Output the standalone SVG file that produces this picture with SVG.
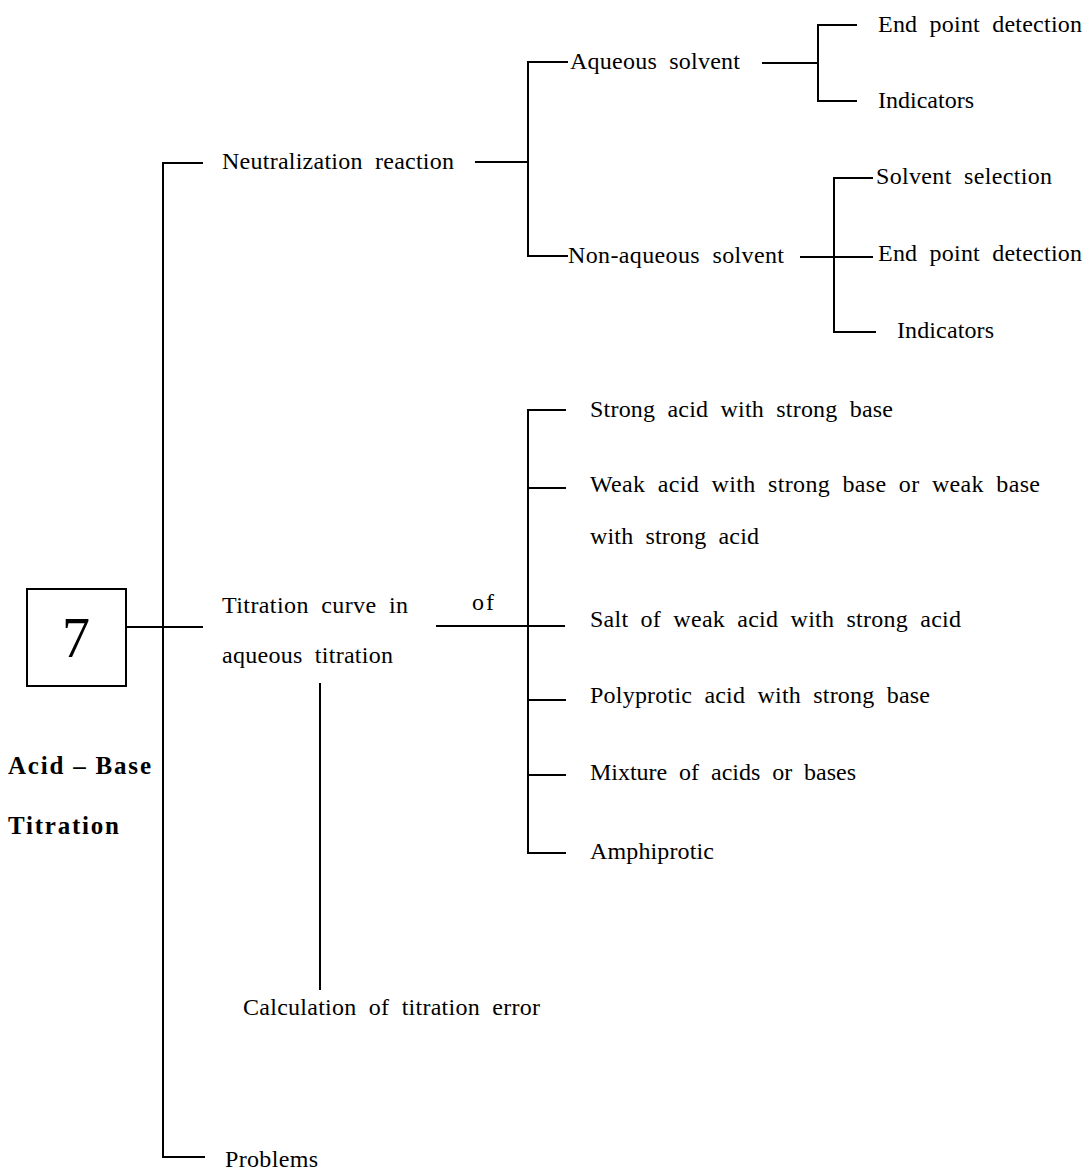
<svg xmlns="http://www.w3.org/2000/svg" width="1089" height="1174" viewBox="0 0 1089 1174">
<style>
text{font-family:"Liberation Serif","Times New Roman",serif;font-size:24px;fill:#000;word-spacing:6px}
.b{font-weight:bold;font-size:25px;word-spacing:0}
.big{font-size:56px}
.c line,.c path,.box{stroke:#000;stroke-width:2;fill:none}
</style>
<rect width="1089" height="1174" style="fill:#fff;stroke:none"/>
<g id="connectors" class="c">
<path d="M203,163 H163 V1157 H205"/>
<line x1="126" y1="627" x2="203" y2="627"/>
<line x1="475" y1="162" x2="528" y2="162"/>
<path d="M568,62 H528 V256 H568"/>
<line x1="762" y1="63" x2="818" y2="63"/>
<path d="M857,25 H818 V101 H857"/>
<line x1="800" y1="257" x2="873" y2="257"/>
<path d="M873,178 H834 V332 H876"/>
<line x1="436" y1="626" x2="565" y2="626"/>
<path d="M566,410 H528 V853 H566"/>
<line x1="528" y1="488" x2="566" y2="488"/>
<line x1="528" y1="700" x2="566" y2="700"/>
<line x1="528" y1="775" x2="566" y2="775"/>
<line x1="320" y1="683" x2="320" y2="990"/>
</g>
<g id="root">
<rect class="box" x="27" y="589" width="99" height="97"/>
<text class="big" x="76" y="657" text-anchor="middle">7</text>
<text class="b" x="8" y="774" textLength="143">Acid – Base</text>
<text class="b" x="8" y="834" textLength="111">Titration</text>
</g>
<g id="neutralization"><text x="222" y="169" textLength="232">Neutralization reaction</text></g>
<g id="aqueous"><text x="570" y="69" textLength="170">Aqueous solvent</text></g>
<g id="aq-endpoint"><text x="878" y="32" textLength="204">End point detection</text></g>
<g id="aq-indicators"><text x="878" y="108" textLength="96">Indicators</text></g>
<g id="nonaqueous"><text x="568" y="263" textLength="216">Non-aqueous solvent</text></g>
<g id="solvent-selection"><text x="876" y="184" textLength="176">Solvent selection</text></g>
<g id="na-endpoint"><text x="878" y="261" textLength="204">End point detection</text></g>
<g id="na-indicators"><text x="897" y="338" textLength="97">Indicators</text></g>
<g id="titration-curve">
<text x="222" y="613" textLength="186">Titration curve in</text>
<text x="222" y="663" textLength="171">aqueous titration</text>
<text x="472" y="610" textLength="22">of</text>
</g>
<g id="strong-strong"><text x="590" y="417" textLength="303">Strong acid with strong base</text></g>
<g id="weak-strong">
<text x="590" y="492" textLength="450">Weak acid with strong base or weak base</text>
<text x="590" y="544" textLength="169">with strong acid</text>
</g>
<g id="salt"><text x="590" y="627" textLength="371">Salt of weak acid with strong acid</text></g>
<g id="polyprotic"><text x="590" y="703" textLength="340">Polyprotic acid with strong base</text></g>
<g id="mixture"><text x="590" y="780" textLength="266">Mixture of acids or bases</text></g>
<g id="amphiprotic"><text x="590" y="859" textLength="124">Amphiprotic</text></g>
<g id="titration-error"><text x="243" y="1015" textLength="297">Calculation of titration error</text></g>
<g id="problems"><text x="225" y="1167" textLength="93">Problems</text></g>
</svg>
